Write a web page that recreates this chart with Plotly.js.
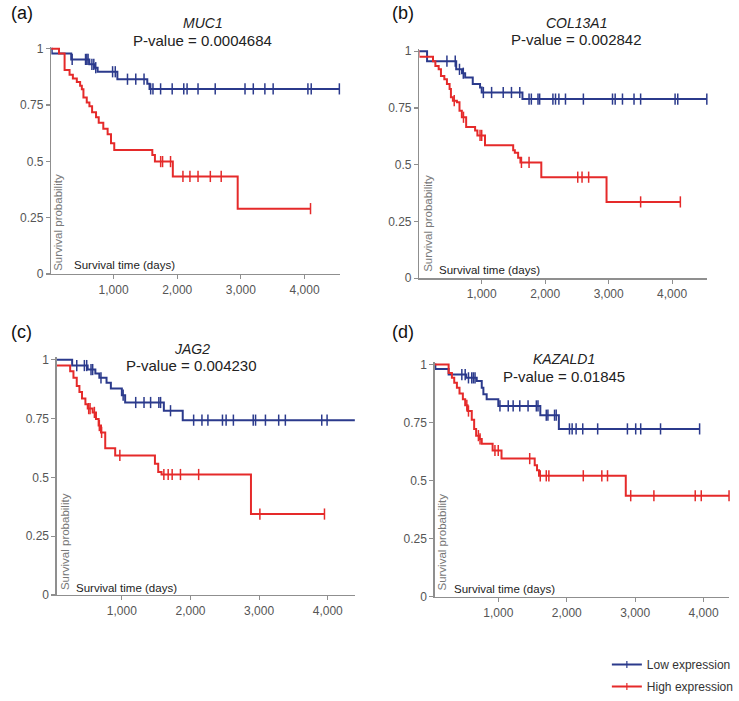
<!DOCTYPE html>
<html><head><meta charset="utf-8">
<script src="https://cdn.plot.ly/plotly-3.0.1.min.js"></script>
<style>body{margin:0;background:#fff}#chart{width:739px;height:701px}</style>
</head><body><div id="chart"></div>
<script>
// ---------- data ----------
const panelLabels = ['(a)', '(b)', '(c)', '(d)'];
const genes = ['MUC1', 'COL13A1', 'JAG2', 'KAZALD1'];
const pValues = ['0.0004684', '0.002842', '0.004230', '0.01845'];
const seriesNames = ['Low expression', 'High expression'];
const xTickVals = [1000, 2000, 3000, 4000];
const xTickText = ['1,000', '2,000', '3,000', '4,000'];
const yTickVals = [0, 0.25, 0.5, 0.75, 1];
const yTickText = ['0', '0.25', '0.5', '0.75', '1'];
const yAxisTitle = 'Survival probability';
const xAxisTitle = 'Survival time (days)';

// (a) MUC1
const aLowTime = [0, 30, 335, 620, 700, 750, 1060, 1530, 1565];
const aLowSurv = [1, 0.979, 0.953, 0.931, 0.916, 0.898, 0.865, 0.845, 0.822];
const aLowCens = [350, 560, 580, 600, 660, 690, 720, 985, 1027, 1219, 1349, 1479, 1583, 1619, 1739, 1921, 2103, 2155, 2327, 2597, 3065, 3195, 3377, 3507, 4053, 4105, 4547];
const aLowEnd = 4547;
const aHighTime = [0, 143, 231, 309, 361, 423, 475, 502, 527, 579, 621, 663, 725, 767, 839, 907, 960, 1011, 1609, 1650, 1931, 2950];
const aHighSurv = [1, 0.979, 0.906, 0.885, 0.868, 0.853, 0.836, 0.82, 0.784, 0.762, 0.745, 0.718, 0.696, 0.672, 0.645, 0.62, 0.58, 0.55, 0.528, 0.499, 0.433, 0.29];
const aHighCens = [1740, 1770, 1895, 2090, 2200, 2327, 2520, 2691, 4094];
const aHighEnd = 4094;

// (b) COL13A1
const bLowTime = [0, 139, 598, 690, 739, 859, 974, 1000, 1642];
const bLowSurv = [1, 0.956, 0.92, 0.903, 0.884, 0.855, 0.84, 0.818, 0.789];
const bLowCens = [452, 583, 650, 710, 1026, 1156, 1339, 1469, 1600, 1746, 1782, 1887, 1913, 2122, 2163, 2216, 2320, 2602, 3061, 3103, 3218, 3400, 3504, 4047, 4089, 4547];
const bLowEnd = 4547;
const bHighTime = [0, 10, 233, 270, 322, 358, 411, 452, 494, 515, 546, 609, 650, 687, 755, 896, 932, 1052, 1496, 1522, 1574, 1610, 1939, 2967];
const bHighSurv = [1, 0.975, 0.956, 0.935, 0.92, 0.891, 0.876, 0.855, 0.833, 0.797, 0.782, 0.775, 0.738, 0.709, 0.666, 0.651, 0.629, 0.586, 0.564, 0.553, 0.53, 0.51, 0.445, 0.336];
const bHighCens = [567, 713, 974, 1000, 1626, 1746, 2513, 2581, 2685, 3504, 4130];
const bHighEnd = 4130;

// (c) JAG2
const cLowTime = [0, 276, 502, 614, 672, 777, 840, 1000, 1048, 1612, 1887];
const cLowSurv = [1, 0.975, 0.958, 0.941, 0.923, 0.902, 0.877, 0.849, 0.818, 0.783, 0.743];
const cLowCens = [343, 454, 488, 551, 575, 696, 1019, 1202, 1323, 1419, 1539, 1564, 1709, 2046, 2167, 2254, 2466, 2519, 2625, 2914, 2948, 3092, 3285, 3382, 3912, 3990, 4396];
const cLowEnd = 4396;
const cHighTime = [0, 40, 247, 295, 343, 382, 420, 469, 503, 575, 623, 662, 696, 758, 903, 1482, 1530, 1578, 2881];
const cHighSurv = [1, 0.975, 0.951, 0.923, 0.888, 0.863, 0.835, 0.811, 0.792, 0.776, 0.748, 0.72, 0.691, 0.624, 0.593, 0.558, 0.523, 0.512, 0.344];
const cHighCens = [517, 537, 600, 672, 705, 971, 1612, 1675, 1733, 1854, 2119, 3011, 3952];
const cHighEnd = 3952;

// (d) KAZALD1
const dLowTime = [0, 80, 274, 530, 685, 758, 782, 830, 1000, 1614, 1885];
const dLowSurv = [1, 0.981, 0.957, 0.943, 0.929, 0.9, 0.872, 0.851, 0.822, 0.782, 0.723];
const dLowCens = [467, 516, 564, 612, 636, 660, 1024, 1145, 1217, 1314, 1435, 1556, 1580, 1701, 1725, 1822, 1846, 2040, 2079, 2137, 2234, 2452, 2887, 3008, 3081, 3371, 3942];
const dLowEnd = 3942;
const dHighTime = [0, 274, 322, 356, 395, 433, 482, 516, 550, 612, 647, 676, 724, 758, 917, 1047, 1532, 1566, 1595, 2863];
const dHighSurv = [1, 0.964, 0.943, 0.922, 0.9, 0.876, 0.851, 0.825, 0.8, 0.762, 0.723, 0.694, 0.68, 0.659, 0.63, 0.595, 0.566, 0.545, 0.521, 0.435];
const dHighCens = [540, 564, 709, 733, 951, 999, 1459, 1613, 1701, 1739, 2242, 2513, 2596, 2935, 3274, 3878, 3966, 4372];
const dHighEnd = 4372;

// ---------- layout geometry (pixels) ----------
const W = 739, H = 701;
const BLUE = '#2b3a8c', RED = '#e52a2a', AX = '#8f8f8f';
const FONT = 'Liberation Sans, Arial, sans-serif';
const geom = [
  {x0: 51.7, x1: 342.7, yb: 276.7, yt: 49.3, xr: [23, 4563], lab: [22, 13], tx: 204, ty: [23.5, 40.5], yl: [59, 224.5], xl: [72, 268]},
  {x0: 422.3, x1: 711.7, yb: 281, yt: 51.7, xr: [19, 4548], lab: [406, 13], tx: 580, ty: [23, 40], yl: [431, 226], xl: [440, 273]},
  {x0: 57.3, x1: 357.3, yb: 601, yt: 363.3, xr: [54, 4395], lab: [22, 335], tx: 193, ty: [352.5, 369.5], yl: [65, 547], xl: [75, 594]},
  {x0: 437.7, x1: 734, yb: 602.7, yt: 368.3, xr: [71, 4372], lab: [406, 335], tx: 568, ty: [362.5, 380], yl: [445, 547], xl: [455, 595]}
];
const series = [
  [[aLowTime, aLowSurv, aLowCens, aLowEnd], [aHighTime, aHighSurv, aHighCens, aHighEnd]],
  [[bLowTime, bLowSurv, bLowCens, bLowEnd], [bHighTime, bHighSurv, bHighCens, bHighEnd]],
  [[cLowTime, cLowSurv, cLowCens, cLowEnd], [cHighTime, cHighSurv, cHighCens, cHighEnd]],
  [[dLowTime, dLowSurv, dLowCens, dLowEnd], [dHighTime, dHighSurv, dHighCens, dHighEnd]]
];
const colors = [BLUE, RED];
const YMAX = 1.01;

function stepAt(times, surv, t) {
  let v = surv[0];
  for (let i = 0; i < times.length; i++) { if (times[i] <= t) v = surv[i]; }
  return v;
}
const px = x => x / W;
const py = y => 1 - y / H;

const traces = [];
const layout = {
  width: W, height: H, margin: {l: 0, r: 0, t: 0, b: 0},
  paper_bgcolor: '#fff', plot_bgcolor: '#fff', showlegend: true,
  font: {family: FONT, size: 12, color: '#444'},
  legend: {x: px(611), y: py(657), xanchor: 'left', yanchor: 'top', font: {size: 12, color: '#333'},
           bgcolor: 'rgba(0,0,0,0)', traceorder: 'grouped', tracegroupgap: 3, itemwidth: 30},
  annotations: []
};

geom.forEach((g, k) => {
  const sfx = k === 0 ? '' : String(k + 1);
  const xa = 'x' + sfx, ya = 'y' + sfx;
  const ytopPx = g.yb - YMAX * (g.yb - g.yt);
  layout['xaxis' + sfx] = {
    domain: [px(g.x0), px(g.x1)], range: g.xr, anchor: ya,
    showline: true, linecolor: AX, linewidth: 1.5, showgrid: false, zeroline: false,
    ticks: 'outside', ticklen: 4, tickcolor: AX, tickwidth: 1.2,
    tickvals: xTickVals, ticktext: xTickText, tickfont: {size: 12, color: '#555'}, fixedrange: true
  };
  layout['yaxis' + sfx] = {
    domain: [py(g.yb), py(ytopPx)], range: [0, YMAX], anchor: xa,
    showline: true, linecolor: AX, linewidth: 1.5, showgrid: false, zeroline: false,
    ticks: 'outside', ticklen: 4, tickcolor: AX, tickwidth: 1.2,
    tickvals: yTickVals, ticktext: yTickText, tickfont: {size: 12, color: '#555'}, fixedrange: true
  };
  series[k].forEach((s, j) => {
    const [t, v, cens, end] = s;
    traces.push({
      type: 'scatter', mode: 'lines', xaxis: xa, yaxis: ya, showlegend: false,
      x: t.concat([end]), y: v.concat([v[v.length - 1]]),
      line: {shape: 'hv', color: colors[j], width: 2}, hoverinfo: 'skip'
    });
    traces.push({
      type: 'scatter', mode: 'markers', xaxis: xa, yaxis: ya, showlegend: false, cliponaxis: false,
      x: cens, y: cens.map(c => stepAt(t, v, c)),
      marker: {symbol: 'line-ns-open', size: 8, color: colors[j], line: {color: colors[j], width: 1.5}}, hoverinfo: 'skip'
    });
  });
  const A = layout.annotations;
  A.push({xref: 'paper', yref: 'paper', x: px(g.lab[0]), y: py(g.lab[1]), text: panelLabels[k], showarrow: false,
          xanchor: 'center', yanchor: 'middle', font: {size: 18, color: '#111'}});
  A.push({xref: 'paper', yref: 'paper', x: px(g.tx), y: py(g.ty[0]), text: '<i>' + genes[k] + '</i>', showarrow: false,
          xanchor: 'center', yanchor: 'middle', font: {size: 14, color: '#222'}});
  A.push({xref: 'paper', yref: 'paper', x: px(g.tx), y: py(g.ty[1]), text: 'P-value = ' + pValues[k], showarrow: false,
          xanchor: 'center', yanchor: 'middle', font: {size: 15, color: '#222'}});
  A.push({xref: 'paper', yref: 'paper', x: px(g.yl[0]), y: py(g.yl[1]), text: yAxisTitle, textangle: -90, showarrow: false,
          xanchor: 'center', yanchor: 'middle', font: {size: 11.5, color: '#777'}});
  A.push({xref: 'paper', yref: 'paper', x: px(g.xl[0]), y: py(g.xl[1]), text: xAxisTitle, showarrow: false,
          xanchor: 'left', yanchor: 'middle', font: {size: 11.5, color: '#222'}});
});

// legend entries
seriesNames.forEach((n, j) => {
  traces.push({type: 'scatter', mode: 'lines+markers', x: [null], y: [null], name: n, showlegend: true,
    legendgroup: 'g' + j,
    line: {color: colors[j], width: 2},
    marker: {symbol: 'line-ns-open', size: 5, color: colors[j], line: {color: colors[j], width: 1.2}}});
});

Plotly.newPlot('chart', traces, layout, {displayModeBar: false, staticPlot: true});
</script></body></html>
